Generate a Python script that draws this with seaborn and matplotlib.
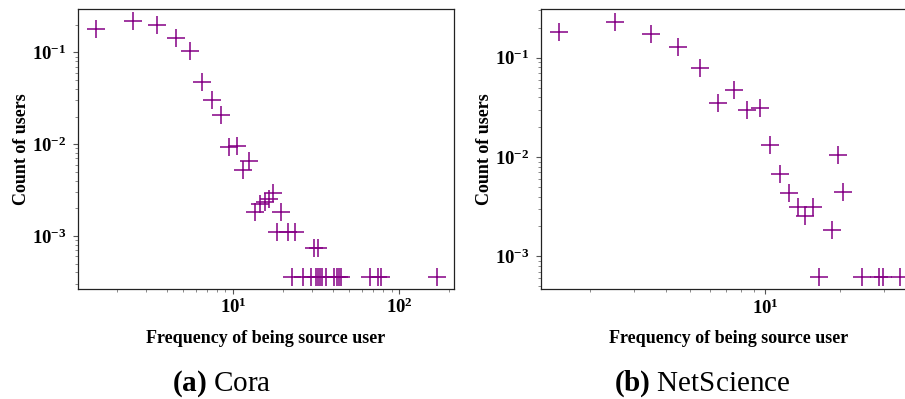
import numpy as np
import pandas as pd
import matplotlib
matplotlib.use("Agg")
import matplotlib.pyplot as plt
import seaborn as sns
from matplotlib.ticker import LogLocator, FuncFormatter, NullFormatter

# ---- data ----
cora_x = [1.5, 2.5, 3.5, 4.5, 5.5, 6.5, 7.5, 8.5, 9.5, 10.5, 11.5, 12.5,
          13.5, 14.5, 15.5, 16.5, 17.5, 18.5, 19.5, 21.5, 23.5, 30.5, 32.5,
          22.5, 26.5, 29.5, 31.5, 32.5, 33.5, 34.5, 36.5, 40.5, 42.5, 43.5,
          44.5, 66.5, 74.5, 77.5, 168.5]
cora_y = [0.18, 0.218, 0.20, 0.143, 0.103, 0.048, 0.0305, 0.0207, 0.0094, 0.0096,
          0.0052, 0.0065, 0.00184, 0.00222, 0.00237, 0.00254, 0.0029, 0.0011,
          0.00184, 0.0011, 0.0011, 0.00073, 0.00073,
          0.00036, 0.00036, 0.00036, 0.00036, 0.00036, 0.00036, 0.00036, 0.00036,
          0.00036, 0.00036, 0.00036, 0.00036, 0.00036, 0.00036, 0.00036, 0.00036]

net_x = [1.5, 2.5, 3.5, 4.5, 5.5, 6.5, 7.5, 8.5, 9.5, 10.5, 11.5, 12.5, 13.5,
         14.5, 15.5, 16.5, 18.5, 19.5, 20.5, 24.5, 28.5, 29.5, 34.5]
net_y = [0.183, 0.23, 0.173, 0.129, 0.078, 0.0352, 0.0473, 0.0297, 0.0314, 0.0132,
         0.0068, 0.00436, 0.00311, 0.00255, 0.00311, 0.00062, 0.00185, 0.0104,
         0.0044, 0.00062, 0.00062, 0.00062, 0.00062]

x_label = "Frequency of being source user"
y_label = "Count of users"
captions = [("(a)", "Cora"), ("(b)", "NetScience")]

# ---- style ----
sns.set_style("ticks")
plt.rcParams["font.family"] = ["Liberation Serif", "DejaVu Serif"]
plt.rcParams["mathtext.fontset"] = "custom"
plt.rcParams["mathtext.rm"] = "Liberation Serif:bold"
plt.rcParams["mathtext.bf"] = "Liberation Serif:bold"
plt.rcParams["mathtext.it"] = "Liberation Serif:bold"
plt.rcParams["mathtext.default"] = "bf"
plt.rcParams["text.color"] = "black"
plt.rcParams["axes.labelcolor"] = "black"
plt.rcParams["xtick.labelcolor"] = "black"
plt.rcParams["ytick.labelcolor"] = "black"

color = "#850085"


def log_fmt(v, pos):
    e = int(round(np.log10(v)))
    return r"$\mathbf{10^{%d}}$" % e


fig = plt.figure(figsize=(9.05, 3.99), dpi=100)
W, H = 905, 399
ax1 = fig.add_axes([78 / W, 1 - 289 / H, 376 / W, 280 / H])
ax2 = fig.add_axes([541 / W, 1 - 289.3 / H, 376 / W, 280 / H])

df1 = pd.DataFrame({"x": cora_x, "y": cora_y})
df2 = pd.DataFrame({"x": net_x, "y": net_y})

for ax, df, xl, yl in [(ax1, df1, (1.164, 214), (2.64e-4, 0.297)),
                       (ax2, df2, (1.27, 40.5), (4.66e-4, 0.307))]:
    sns.scatterplot(data=df, x="x", y="y", ax=ax, marker="+", s=170,
                    color=color, linewidth=1.1, legend=False)
    ax.set_xscale("log")
    ax.set_yscale("log")
    ax.set_xlim(*xl)
    ax.set_ylim(*yl)
    ax.xaxis.set_major_locator(LogLocator(base=10))
    ax.xaxis.set_minor_locator(LogLocator(base=10, subs=np.arange(2, 10)))
    ax.yaxis.set_major_locator(LogLocator(base=10))
    ax.yaxis.set_minor_locator(LogLocator(base=10, subs=np.arange(2, 10)))
    ax.xaxis.set_major_formatter(FuncFormatter(log_fmt))
    ax.yaxis.set_major_formatter(FuncFormatter(log_fmt))
    ax.xaxis.set_minor_formatter(NullFormatter())
    ax.yaxis.set_minor_formatter(NullFormatter())
    ax.set_xlabel(x_label, fontsize=13, fontweight="bold", labelpad=9)
    ax.set_ylabel(y_label, fontsize=13, fontweight="bold", labelpad=1)
    ax.tick_params(which="major", direction="out", length=3.5, width=0.8,
                   color="#555555", labelsize=13.5)
    ax.tick_params(which="minor", direction="out", length=2, width=0.6,
                   color="#777777")
    ax.tick_params(axis="y", which="major", pad=5)
    ax.tick_params(axis="x", which="major", pad=3)
    for sp in ax.spines.values():
        sp.set_visible(True)
        sp.set_color("#222222")
        sp.set_linewidth(0.9)

for (tag, name), xc in zip(captions, [222 / W, 702 / W]):
    fig.text(xc, 8 / H, r"$" + tag + r"$" + " " + name, fontsize=21,
             ha="center", va="baseline", color="black")

fig.savefig("out.png", dpi=100)
